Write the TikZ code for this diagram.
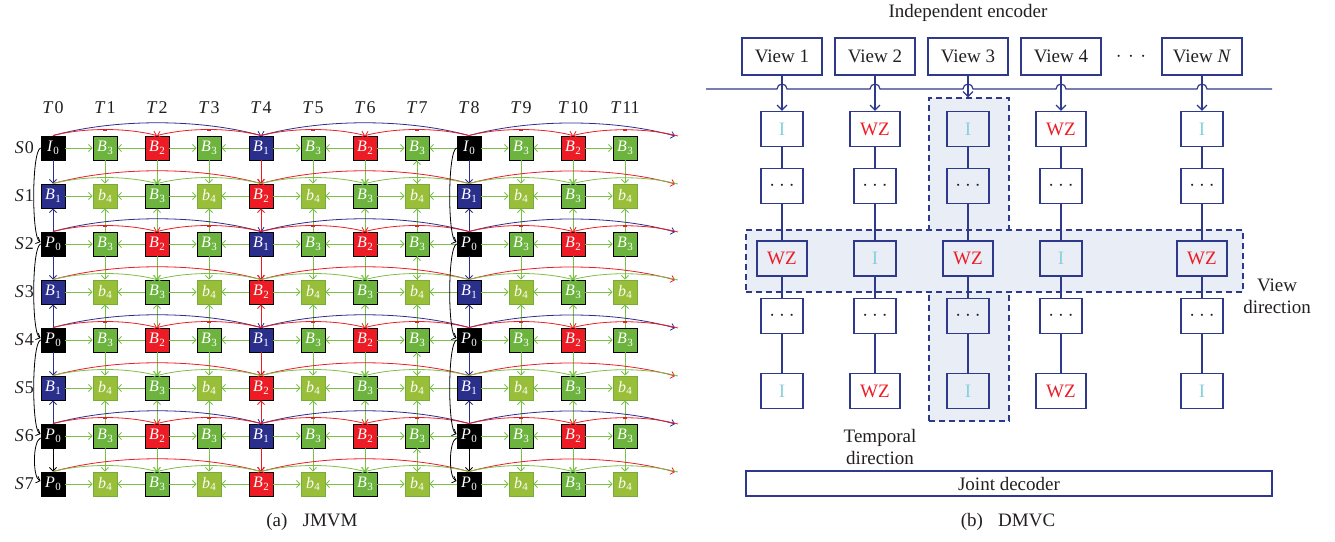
\documentclass[tikz,border=0pt]{standalone}
\usepackage{fontspec}
\setmainfont{Liberation Serif}
\usetikzlibrary{arrows.meta,calc}

\definecolor{jmblue}{RGB}{43,47,140}
\definecolor{jmred}{RGB}{237,28,36}
\definecolor{jmgreen}{RGB}{108,180,62}
\definecolor{jmlight}{RGB}{152,190,58}
\definecolor{jmlightrim}{RGB}{118,172,58}
\definecolor{jmarrow}{RGB}{122,192,72}
\definecolor{dvnavy}{RGB}{46,57,140}
\definecolor{dvfill}{RGB}{233,237,246}
\definecolor{dvcyan}{RGB}{135,210,218}
\definecolor{dvred}{RGB}{237,28,36}
\definecolor{ink}{RGB}{35,31,32}

% italic letter with a lowered upright index
\newcommand\jmsub[2]{\textit{#1}\kern0.3pt\raisebox{-2.5pt}{\fontsize{11}{11}\selectfont#2}}
% frame labels of the JMVM grid
\newcommand\jmlabI{\jmsub{I}{0}}
\newcommand\jmlabP{\jmsub{P}{0}}
\newcommand\jmlabA{\jmsub{B}{1}}
\newcommand\jmlabR{\jmsub{B}{2}}
\newcommand\jmlabG{\jmsub{B}{3}}
\newcommand\jmlabL{\jmsub{b}{4}}
% box labels of the DMVC grid
\newcommand\dvdots{$\cdot$\hspace{4pt}$\cdot$\hspace{4pt}$\cdot$}
\newcommand\dvlabI{I}
\newcommand\dvlabW{WZ}
\newcommand\dvlabD{\dvdots}

% curved prediction arrow over a row: colour, from, to, lift
\newcommand\jmarc[4]{\draw[jtip,line width=0.8pt,draw=#1] (#2) .. controls ($(#2)!0.3!(#3)+(0,-#4)$) and ($(#2)!0.7!(#3)+(0,-#4)$) .. (#3);}

\begin{document}
\begin{tikzpicture}[x=1pt,y=-1pt,
  jtip/.style={-{Straight Barb[length=3.5pt,width=7pt]}},
  dtip/.style={-{Straight Barb[length=5pt,width=10pt]}},
  frame/.style={draw=black,line width=0.9pt,minimum size=24pt,inner sep=0pt,
    text=white,font=\fontsize{16}{16}\selectfont},
  tI/.style={frame,fill=black},
  tP/.style={frame,fill=black},
  tA/.style={frame,fill=jmblue},
  tR/.style={frame,fill=jmred},
  tG/.style={frame,fill=jmgreen},
  tL/.style={frame,fill=jmlight,draw=jmlightrim},
  harr/.style={jtip,draw=jmarrow,line width=0.8pt},
  varr/.style={jtip,line width=0.8pt},
  axislab/.style={font=\fontsize{18}{18}\selectfont,text=ink},
  caption/.style={font=\fontsize{19}{19}\selectfont,text=ink},
  dvtext/.style={font=\fontsize{19}{22}\selectfont,text=ink},
  dvbox/.style={draw=dvnavy,line width=1.2pt,minimum width=42pt,minimum height=35pt,
    inner sep=2pt,font=\fontsize{19}{19}\selectfont},
  dvI/.style={dvbox,text=dvcyan},
  dvW/.style={dvbox,text=dvred,minimum width=50pt},
  dvD/.style={dvbox,text=ink,font=\fontsize{22}{22}\selectfont},
  viewbox/.style={dvbox,minimum width=80pt,minimum height=37pt,text=ink},
  region/.style={draw=dvnavy,fill=dvfill,line width=1.2pt,dash pattern=on 6pt off 4pt,inner sep=0pt},
  dvline/.style={draw=dvnavy,line width=1.2pt},
]
\useasboundingbox (0,0) rectangle (1335,541);

%% ---------------- (a) JMVM ----------------
\foreach \j/\row in {0/{I,G,R,G,A,G,R,G,I,G,R,G},
  1/{A,L,G,L,R,L,G,L,A,L,G,L},
  2/{P,G,R,G,A,G,R,G,P,G,R,G},
  3/{A,L,G,L,R,L,G,L,A,L,G,L},
  4/{P,G,R,G,A,G,R,G,P,G,R,G},
  5/{A,L,G,L,R,L,G,L,A,L,G,L},
  6/{P,G,R,G,A,G,R,G,P,G,R,G},
  7/{P,L,G,L,R,L,G,L,P,L,G,L}}{
  \foreach \t [count=\i from 0] in \row {
    \node[t\t] (n-\j-\i) at ({53+52*\i},{148+48*\j}) {\csname jmlab\t\endcsname};
  }
  \coordinate (e-\j) at (675,{148+48*\j-12});
  \coordinate (f-\j) at (678,{148+48*\j-12});
  \node[axislab,anchor=east,inner sep=0pt] (sl-\j) at (34,{148+48*\j}) {\textit{S}\kern1pt\j};
}
\foreach \i in {0,...,11}
  \node[axislab] (tl-\i) at ({53+52*\i},108) {\textit{T}\kern1pt\i};

% predictions along each row
\foreach \j in {0,...,7}{
  \foreach \i in {0,2,...,10}{
    \pgfmathtruncatemacro\nxt{\i+1}
    \draw[harr] (n-\j-\i) -- (n-\j-\nxt);
  }
  \foreach \i in {2,4,...,10}{
    \pgfmathtruncatemacro\prv{\i-1}
    \draw[harr] (n-\j-\i) -- (n-\j-\prv);
  }
}

% predictions between views: downwards into the odd views
\foreach \j in {0,2,4,6}{
  \pgfmathtruncatemacro\dn{\j+1}
  \foreach \i in {1,2,3,5,6,7,9,10,11}
    \draw[varr,draw=jmarrow] (n-\j-\i) -- (n-\dn-\i);
  \draw[varr,draw=jmred] (n-\j-4) -- (n-\dn-4);
  \draw[varr,draw=jmarrow] (n-\dn-7) -- (n-\j-7);
}
\foreach \j in {0,2,4}{
  \pgfmathtruncatemacro\dn{\j+1}
  \draw[varr,draw=jmblue] (n-\j-0) -- (n-\dn-0);
  \draw[varr,draw=jmblue] (n-\j-8) -- (n-\dn-8);
}
\draw[varr,draw=black] (n-6-0) -- (n-7-0);
\draw[varr,draw=black] (n-6-8) -- (n-7-8);

% predictions between views: upwards into the odd views
\foreach \j in {2,4,6}{
  \pgfmathtruncatemacro\up{\j-1}
  \foreach \i in {1,2,3,5,6,7,9,10,11}
    \draw[varr,draw=jmarrow] (n-\j-\i) -- (n-\up-\i);
  \draw[varr,draw=jmred] (n-\j-4) -- (n-\up-4);
  \draw[varr,draw=jmblue] (n-\j-0) -- (n-\up-0);
  \draw[varr,draw=jmblue] (n-\j-8) -- (n-\up-8);
}

% temporal hierarchy arcs over each row
\foreach \j/\lc/\sc in {0/jmblue/jmred,1/jmred/jmarrow,2/jmblue/jmred,3/jmred/jmarrow,
  4/jmblue/jmred,5/jmred/jmarrow,6/jmblue/jmred,7/jmred/jmarrow}{
  \jmarc{\lc}{n-\j-0.north}{n-\j-4.north}{17}
  \jmarc{\lc}{n-\j-8.north}{n-\j-4.north}{17}
  \jmarc{\lc}{n-\j-8.north}{e-\j}{17}
  \jmarc{\sc}{n-\j-0.north}{n-\j-2.north}{8}
  \jmarc{\sc}{n-\j-4.north}{n-\j-2.north}{8}
  \jmarc{\sc}{n-\j-4.north}{n-\j-6.north}{8}
  \jmarc{\sc}{n-\j-8.north}{n-\j-6.north}{8}
  \jmarc{\sc}{n-\j-8.north}{n-\j-10.north}{8}
  \jmarc{\sc}{f-\j}{n-\j-10.north}{8}
}
% small marks at the crest of the short red arcs
\foreach \j in {0,2,4,6}
  \foreach \k in {1,3,5,7,9,11}
    \fill[jmred] ({53+52*\k-2},{148+48*\j-12-7}) rectangle +(4,2);

% anchor-view chains
\foreach \c in {0,8}{
  \foreach \a/\b in {0/2,2/4,4/6}{
    \draw[jtip,line width=0.8pt,black] (n-\a-\c.west) .. controls +(-9,3) and +(-9,-4) .. ([yshift=2pt]n-\b-\c.west);
  }
  \draw[jtip,line width=0.8pt,black] ([yshift=-2pt]n-6-\c.west) .. controls +(-8,3) and +(-8,-3) .. ([yshift=3pt]n-7-\c.west);
}

\node[caption] (capa) at (312,522) {(a)\hspace{0.8em}JMVM};

%% ---------------- (b) DMVC ----------------
\node[dvtext] (enc) at (968,13) {Independent encoder};
\node[viewbox] (v1) at (782,56.5) {View 1};
\node[viewbox] (v2) at (875,56.5) {View 2};
\node[viewbox] (v3) at (968,56.5) {View 3};
\node[viewbox] (v4) at (1061,56.5) {View 4};
\node[viewbox] (vN) at (1202,56.5) {View \textit{N}};
\node[dvtext,font=\fontsize{22}{22}\selectfont] (vdots) at (1131,57) {$\cdot$\hspace{6.5pt}$\cdot$\hspace{6.5pt}$\cdot$};

% highlighted temporal column and view band
\node[region,minimum width=80pt,minimum height=323pt] (colreg) at (969,259.5) {};
\node[region,minimum width=497pt,minimum height=62pt] (band) at (994.5,261) {};

% shared bus of the independent encoders
\draw[dvline] (706,89) -- (777,89) arc[start angle=180,end angle=360,radius=5]
  -- (870,89) arc[start angle=180,end angle=360,radius=5]
  -- (963,89) arc[start angle=180,end angle=360,radius=5]
  -- (1056,89) arc[start angle=180,end angle=360,radius=5]
  -- (1197,89) arc[start angle=180,end angle=360,radius=5]
  -- (1272,89);

\foreach \r/\y/\row in {1/129/{I,W,I,W,I},2/186/{D,D,D,D,D},3/258.5/{W,I,W,I,W},
  4/316/{D,D,D,D,D},5/391/{I,W,I,W,I}}{
  \foreach \t [count=\c] in \row {
    \pgfmathsetmacro\bx{{782,875,968,1061,1202}[\c-1]}
    \node[dv\t] (b-\r-\c) at (\bx,\y) {\csname dvlab\t\endcsname};
  }
}
\foreach \c in {1,...,5}
  \foreach \r in {1,...,4}{
    \pgfmathtruncatemacro\s{\r+1}
    \draw[dvline] (b-\r-\c) -- (b-\s-\c);
  }

\draw[dvline,dtip] (v1) -- (b-1-1);
\draw[dvline,dtip] (v2) -- (b-1-2);
\draw[dvline,dtip] (v3.south) -- (v3.south |- colreg.north);
\draw[dvline,dtip] (v4) -- (b-1-4);
\draw[dvline,dtip] (vN) -- (b-1-5);

\node[dvtext,align=center] (vdir) at (1277,296) {View\\direction};
\node[dvtext,align=center] (tdir) at (880,447) {Temporal\\direction};
\node[dvline,dvtext,minimum width=526pt,minimum height=25pt,inner sep=0pt] (dec) at (1009,483.5) {Joint decoder};

\node[caption] (capb) at (1008,522) {(b)\hspace{0.8em}DMVC};
\end{tikzpicture}
\end{document}
